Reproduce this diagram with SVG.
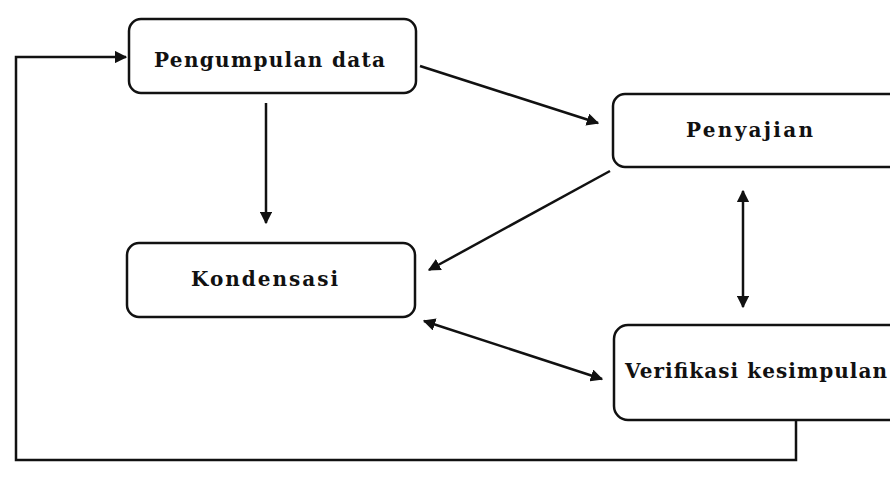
<svg xmlns="http://www.w3.org/2000/svg" width="890" height="484" viewBox="0 0 890 484">
<defs>
<marker id="ah" viewBox="0 0 10 10" refX="9" refY="5" markerWidth="5" markerHeight="5" orient="auto-start-reverse" markerUnits="strokeWidth">
<path d="M0,0 L10,5 L0,10 z" fill="#111"/>
</marker>
<style>
.box{fill:#fff;stroke:#111;stroke-width:2.5}
.lbl{font-family:"DejaVu Serif","Liberation Serif",serif;font-weight:bold;font-size:20px;fill:#111}
.c{fill:none;stroke:#111;stroke-width:2.5}
</style>
</defs>
<rect width="890" height="484" fill="#fff"/>
<g id="pengumpulan">
<rect class="box" x="129" y="19" width="287" height="74" rx="12"/>
<text class="lbl" x="154" y="67" textLength="231">Pengumpulan data</text>
</g>
<g id="penyajian">
<rect class="box" x="613" y="94" width="290" height="73" rx="12"/>
<text class="lbl" x="686" y="137" textLength="127">Penyajian</text>
</g>
<g id="kondensasi">
<rect class="box" x="127" y="243" width="288" height="74" rx="12"/>
<text class="lbl" x="191" y="286" textLength="147">Kondensasi</text>
</g>
<g id="verifikasi">
<rect class="box" x="614" y="325" width="290" height="95" rx="14"/>
<text class="lbl" x="625" y="378" textLength="262">Verifikasi kesimpulan</text>
</g>
<g id="connectors">
<path class="c" d="M796,420 V460 H16 V57 H126" marker-end="url(#ah)"/>
<path class="c" d="M266,103 V223" marker-end="url(#ah)"/>
<path class="c" d="M420,66 L598,123" marker-end="url(#ah)"/>
<path class="c" d="M610,171 L429,270" marker-end="url(#ah)"/>
<path class="c" d="M743,191 V307" marker-start="url(#ah)" marker-end="url(#ah)"/>
<path class="c" d="M424,321 L602,379" marker-start="url(#ah)" marker-end="url(#ah)"/>
</g>
</svg>
